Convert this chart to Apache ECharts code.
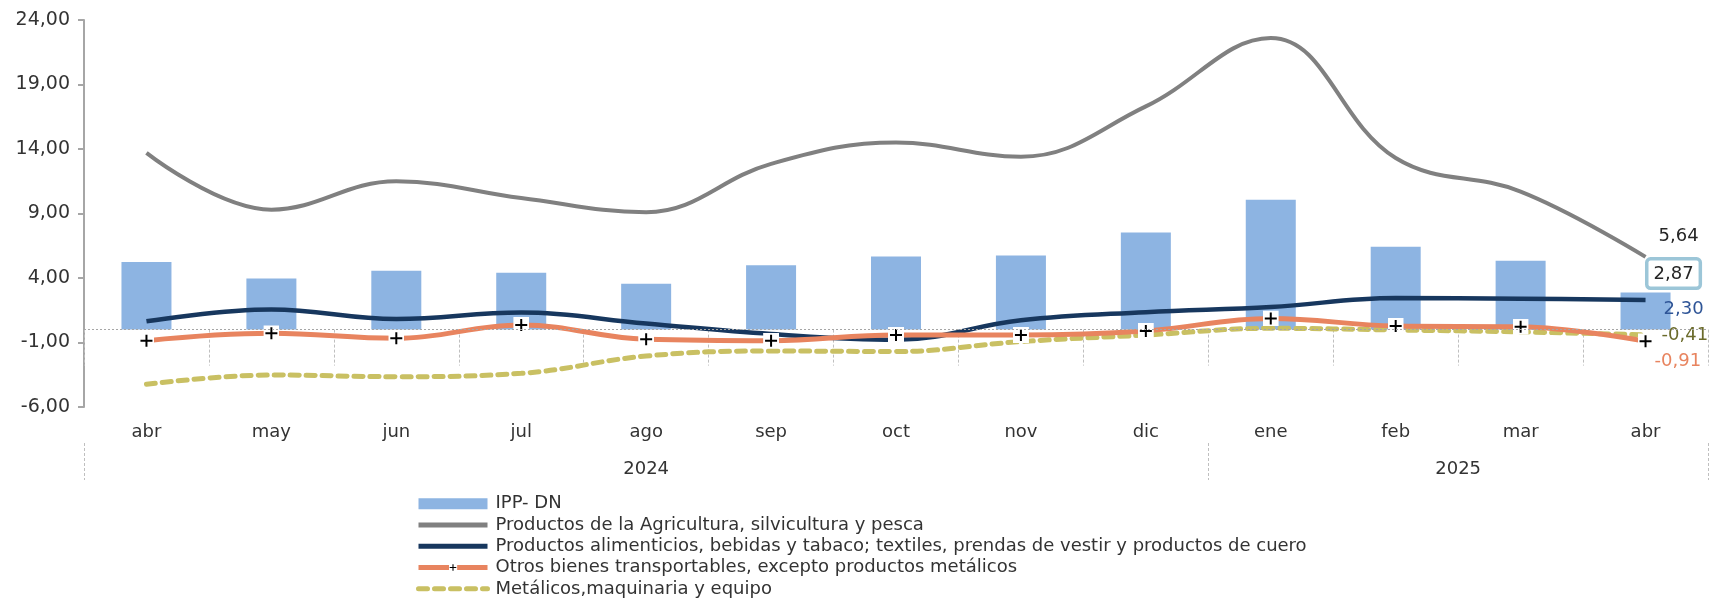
<!DOCTYPE html>
<html>
<head>
<meta charset="utf-8">
<script src="https://cdn.jsdelivr.net/npm/echarts@6/dist/echarts.min.js"></script>
<style>
  html, body { margin: 0; padding: 0; background: #fff; }
  #main { width: 1711px; height: 599px; }
</style>
</head>
<body>
<div id="main"></div>
<script>
// categorías (meses) y años
const meses = ['abr', 'may', 'jun', 'jul', 'ago', 'sep', 'oct', 'nov', 'dic', 'ene', 'feb', 'mar', 'abr'];
const anios = ['2024', '2025'];
const mesesPorAnio = [9, 4];

// series
const ippDN = [5.24, 3.97, 4.56, 4.40, 3.55, 4.99, 5.66, 5.75, 7.52, 10.06, 6.42, 5.33, 2.87];
const agricultura = [13.7, 9.3, 11.5, 10.2, 9.1, 12.85, 14.5, 13.4, 17.3, 22.6, 13.3, 10.7, 5.64];
const alimenticios = [0.64, 1.55, 0.82, 1.32, 0.47, -0.34, -0.78, 0.72, 1.35, 1.75, 2.44, 2.40, 2.30];
const otrosBienes = [-0.86, -0.29, -0.68, 0.36, -0.75, -0.86, -0.42, -0.42, -0.10, 0.87, 0.28, 0.22, -0.91];
const metalicos = [-4.24, -3.52, -3.65, -3.39, -2.05, -1.66, -1.70, -0.93, -0.42, 0.10, -0.03, -0.18, -0.41];

const nombres = [
  'IPP- DN',
  'Productos de la Agricultura, silvicultura y pesca',
  'Productos alimenticios, bebidas y tabaco; textiles, prendas de vestir y productos de cuero',
  'Otros bienes transportables, excepto productos metálicos',
  'Metálicos,maquinaria y equipo'
];

const fuente = '"DejaVu Sans", sans-serif';
const coma = v => v.toFixed(2).replace('.', ',');

// límites de años sobre el eje auxiliar (0..13)
const limitesAnio = [0];
mesesPorAnio.forEach(n => limitesAnio.push(limitesAnio[limitesAnio.length - 1] + n));
const centrosAnio = mesesPorAnio.map((n, i) => limitesAnio[i] + n / 2);

// marcador "+" con fondo blanco
const svgMas = "<svg xmlns='http://www.w3.org/2000/svg' width='16' height='16'><rect width='16' height='16' fill='white'/><path d='M8 2V14M2 8H14' stroke='black' stroke-width='2'/></svg>";
const simboloMas = 'image://data:image/svg+xml;charset=utf-8,' + encodeURIComponent(svgMas);

// etiqueta final de cada línea
function etiquetaFinal(color, offset) {
  return {
    show: true,
    formatter: p => coma(p.value),
    fontSize: 18,
    color: color,
    distance: 0,
    offset: offset
  };
}

var myChart = echarts.init(document.getElementById('main'));
myChart.setOption({
  animation: false,
  textStyle: { fontFamily: fuente },
  grid: { left: 84, right: 3, top: 20, bottom: 192 },
  legend: {
    orient: 'vertical',
    left: 416,
    top: 493,
    height: 107,
    padding: 0,
    itemWidth: 69,
    itemHeight: 11,
    itemGap: 0,
    textStyle: { fontSize: 18, color: '#333', lineHeight: 21.3, fontFamily: fuente, padding: [0, 0, 0, 3] },
    data: [
      { name: nombres[0], icon: 'rect' },
      { name: nombres[1], itemStyle: { opacity: 0 }, lineStyle: { width: 5 } },
      { name: nombres[2], itemStyle: { opacity: 0 }, lineStyle: { width: 5 } },
      { name: nombres[3], lineStyle: { width: 5 } },
      { name: nombres[4], itemStyle: { opacity: 0 }, lineStyle: { width: 5, type: [9, 7], cap: 'round' } }
    ]
  },
  xAxis: [
    {
      type: 'category',
      data: meses,
      boundaryGap: true,
      axisLine: { show: false },
      axisTick: { show: true, inside: false, length: 36, lineStyle: { color: '#bfbfbf', type: [3, 2] } },
      axisLabel: { fontSize: 18, color: '#333', margin: 16 }
    },
    {
      type: 'value',
      position: 'bottom',
      offset: 36,
      min: 0,
      max: 13,
      splitLine: { show: false },
      axisLine: { show: false },
      axisTick: { show: true, length: 37, customValues: limitesAnio, lineStyle: { color: '#bfbfbf', type: [3, 2] } },
      axisLabel: {
        customValues: centrosAnio,
        fontSize: 18,
        color: '#333',
        margin: 17,
        formatter: v => anios[centrosAnio.indexOf(v)]
      }
    }
  ],
  yAxis: {
    type: 'value',
    min: -6,
    max: 24,
    interval: 5,
    splitLine: { show: false },
    axisLine: { show: true, lineStyle: { color: '#a6a6a6', width: 2 } },
    axisTick: { show: true, length: 6, lineStyle: { color: '#a6a6a6', width: 2 } },
    axisLabel: { fontSize: 19, color: '#333', margin: 14, formatter: coma }
  },
  series: [
    {
      name: nombres[0],
      type: 'bar',
      barWidth: 50,
      itemStyle: { color: '#8db4e2' },
      data: ippDN.map((v, i) => i === ippDN.length - 1 ? {
        value: v,
        label: {
          show: true,
          position: 'top',
          offset: [28, -1],
          formatter: p => coma(p.value),
          fontSize: 18,
          color: '#262626',
          backgroundColor: '#fff',
          borderColor: '#9cc6d8',
          borderWidth: 3.5,
          borderRadius: 2,
          padding: [5, 5, 3, 5]
        }
      } : v),
      markLine: {
        silent: true,
        symbol: 'none',
        label: { show: false },
        lineStyle: { color: '#a6a6a6', type: [2, 2], width: 1 },
        data: [{ yAxis: 0 }]
      },
      z: 1
    },
    {
      name: nombres[1],
      type: 'line',
      smooth: 0.4,
      symbol: 'none',
      lineStyle: { color: '#808080', width: 4 },
      itemStyle: { color: '#808080' },
      endLabel: etiquetaFinal('#262626', [13, -21]),
      data: agricultura,
      z: 3
    },
    {
      name: nombres[2],
      type: 'line',
      smooth: 0.4,
      symbol: 'none',
      lineStyle: { color: '#17375e', width: 4.5 },
      itemStyle: { color: '#17375e' },
      endLabel: etiquetaFinal('#2f5597', [18, 9]),
      data: alimenticios,
      z: 3
    },
    {
      name: nombres[4],
      type: 'line',
      smooth: 0.4,
      symbol: 'none',
      lineStyle: { color: '#c9c063', width: 5, type: [9, 7], cap: 'round' },
      itemStyle: { color: '#c9c063' },
      endLabel: etiquetaFinal('#6b6b2b', [16, 0]),
      data: metalicos,
      z: 2
    },
    {
      name: nombres[3],
      type: 'line',
      smooth: 0.4,
      symbol: simboloMas,
      symbolSize: 16,
      showAllSymbol: true,
      lineStyle: { color: '#e8845f', width: 5 },
      itemStyle: { color: '#e8845f' },
      endLabel: etiquetaFinal('#e8845f', [9, 20]),
      data: otrosBienes,
      z: 4
    }
  ]
});
window.addEventListener('resize', function () { myChart.resize(); });
</script>
</body>
</html>
